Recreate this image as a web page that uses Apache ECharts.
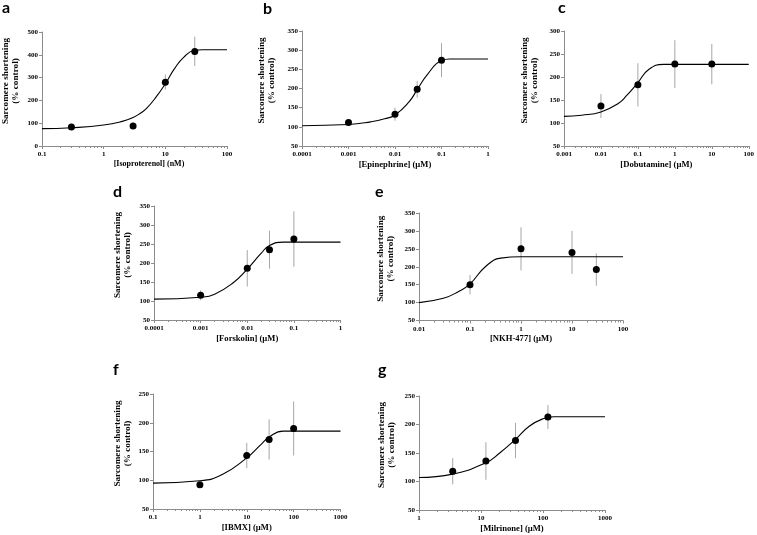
<!DOCTYPE html>
<html>
<head>
<meta charset="utf-8">
<script src="https://cdn.jsdelivr.net/npm/echarts@6/dist/echarts.min.js"></script>
<style>
html,body{margin:0;padding:0;background:#fff;}
#chart{width:757px;height:535px;}
</style>
</head>
<body>
<div id="chart"></div>
<script>
// ---- Data ----
// panel a: Isoproterenol (nM)
const aX = [0.3, 3, 10, 30];
const aY = [83, 88, 280, 415];
const aErr = [0, 0, 33, 64];
const aCurve = [[0.1,76],[0.3,80],[1,92],[2,108],[3,125],[4,145],[5,166],[7,213],[10,273],[14,338],[20,390],[30,420],[40,422],[100,422]];
// panel b: Epinephrine (µM)
const bX = [0.001, 0.01, 0.03, 0.1];
const bY = [111, 133, 198, 274];
const bErr = [3, 17, 22, 44];
const bCurve = [[0.0001,103],[0.001,106],[0.003,113],[0.006,121],[0.01,131],[0.02,165],[0.03,197],[0.05,237],[0.1,273],[0.15,277],[1,277]];
// panel c: Dobutamine (µM)
const cX = [0.01, 0.1, 1, 10];
const cY = [137, 183, 228, 228];
const cErr = [26, 47, 52, 44];
const cCurve = [[0.001,114.5],[0.003,117],[0.01,124],[0.03,143],[0.05,160],[0.1,188],[0.2,217],[0.5,227.5],[100,227.5]];
// panel d: Forskolin (µM)
const dX = [0.001, 0.01, 0.03, 0.1];
const dY = [115, 186, 235, 263];
const dErr = [13, 48, 50, 73];
const dCurve = [[0.0001,105],[0.001,110],[0.002,118],[0.005,148],[0.01,184],[0.02,226],[0.03,246],[0.06,255],[1,255]];
// panel e: NKH-477 (µM)
const eX = [0.1, 1, 10, 30];
const eY = [150, 250, 240, 192];
const eErr = [27, 60, 60, 45];
const eCurve = [[0.01,100],[0.03,112],[0.06,131],[0.1,152],[0.2,200],[0.4,224],[1,228],[100,228]];
// panel f: IBMX (µM)
const fX = [1, 10, 30, 100];
const fY = [92, 143, 171, 190];
const fErr = [0, 22, 35, 47];
const fCurve = [[0.1,95],[1,99],[3,110],[10,139],[20,162],[30,175],[60,185.5],[1000,185.5]];
// panel g: Milrinone (µM)
const gX = [3.5, 12, 36, 120];
const gY = [118, 136, 172, 213];
const gErr = [23, 33, 31, 21];
const gCurve = [[1,107],[3.5,113],[12,133],[20,150],[36,174],[60,197],[100,210],[150,213.5],[1000,213.5]];

const panelLetters = ['a','b','c','d','e','f','g'];
const xNames = ['[Isoproterenol] (nM)','[Epinephrine] (µM)','[Dobutamine] (µM)','[Forskolin] (µM)','[NKH-477] (µM)','[IBMX] (µM)','[Milrinone] (µM)'];
const yName = 'Sarcomere shortening\n(% control)';
const xRanges = [[0.1,100],[0.0001,1],[0.001,100],[0.0001,1],[0.01,100],[0.1,1000],[1,1000]];
const yRanges = [[0,500,100],[50,350,50],[50,300,50],[50,350,50],[50,350,50],[50,250,50],[50,250,50]];

// ---- Layout ----
const grids = [
  {left:40, top:32, width:187, height:114},
  {left:302, top:31, width:186, height:115},
  {left:564, top:31, width:188, height:115},
  {left:154, top:206, width:186.5, height:114},
  {left:419, top:213, width:204, height:107.5},
  {left:153, top:394, width:187.5, height:115},
  {left:419, top:396, width:186, height:114}
];
const yNameGaps = [21, 25, 24, 21, 23, 20.5, 22];
const xNameShift = [29, 0, 0, 0, 0, 0, 0];
const xNameSize = [8, 8.6, 8.6, 8.6, 8.6, 8.6, 8.6];
const letterPos = [[2,9],[263,9.5],[558,9],[113,192.5],[375,192.5],[113,370.5],[378,370.5]];

const panels = [
  [aX,aY,aErr,aCurve],[bX,bY,bErr,bCurve],[cX,cY,cErr,cCurve],[dX,dY,dErr,dCurve],
  [eX,eY,eErr,eCurve],[fX,fY,fErr,fCurve],[gX,gY,gErr,gCurve]
];

const serif = 'Liberation Serif';
const axisColor = '#8c8c8c';

const xAxes = [], yAxes = [], series = [], graphics = [];
panels.forEach((p, i) => {
  xAxes.push({
    type:'log', logBase:10, gridIndex:i, min:xRanges[i][0], max:xRanges[i][1],
    name:xNames[i], nameLocation:'middle', nameGap:14,
    nameTextStyle:{fontFamily:serif, fontWeight:'bold', fontSize:xNameSize[i], color:'#000', padding:[0,0,0,xNameShift[i]]},
    axisLine:{show:true, onZero:false, lineStyle:{color:axisColor, width:1}},
    axisTick:{show:true, length:3, lineStyle:{color:axisColor}},
    minorTick:{show:true, splitNumber:9, length:2, lineStyle:{color:axisColor}},
    axisLabel:{fontFamily:serif, fontWeight:'bold', fontSize:7, color:'#000', margin:5,
      formatter:v => String(parseFloat(Number(v).toPrecision(6)))},
    splitLine:{show:false}
  });
  yAxes.push({
    type:'value', gridIndex:i, min:yRanges[i][0], max:yRanges[i][1], interval:yRanges[i][2],
    name:yName, nameLocation:'middle', nameGap:yNameGaps[i], nameRotate:90,
    nameTextStyle:{fontFamily:serif, fontWeight:'bold', fontSize:9.2, lineHeight:10, color:'#000', padding:[0,0,0,16]},
    axisLine:{show:true, lineStyle:{color:axisColor, width:1}},
    axisTick:{show:true, length:3, lineStyle:{color:axisColor}},
    axisLabel:{fontFamily:serif, fontWeight:'bold', fontSize:7, color:'#000', margin:4},
    splitLine:{show:false}
  });
  const [xs, ys, es, curve] = p;
  series.push({
    type:'custom', xAxisIndex:i, yAxisIndex:i, z:1, silent:true,
    data: xs.map((x,k) => [x, ys[k]-es[k], ys[k]+es[k]]),
    encode:{x:0, y:[1,2]},
    renderItem:(params, api) => {
      const p1 = api.coord([api.value(0), api.value(1)]);
      const p2 = api.coord([api.value(0), api.value(2)]);
      return {type:'line', shape:{x1:p1[0], y1:p1[1], x2:p2[0], y2:p2[1]}, style:{stroke:'#a6a6a6', lineWidth:1}};
    }
  });
  series.push({
    type:'line', xAxisIndex:i, yAxisIndex:i, z:2, data:curve, smooth:0.5,
    showSymbol:false, lineStyle:{color:'#000', width:1.1}, silent:true
  });
  series.push({
    type:'scatter', xAxisIndex:i, yAxisIndex:i, z:3, data:xs.map((x,k)=>[x, ys[k]]),
    symbol:'circle', symbolSize:7, itemStyle:{color:'#000', opacity:1}, silent:true
  });
  graphics.push({
    type:'text', left:letterPos[i][0], top:letterPos[i][1]-9,
    style:{text:panelLetters[i], font:'bold 16px Lato', fill:'#000'}
  });
});

const chart = echarts.init(document.getElementById('chart'), null, {renderer:'canvas'});
chart.setOption({
  animation:false,
  backgroundColor:'#fff',
  grid:grids.map(g => Object.assign({containLabel:false}, g)),
  xAxis:xAxes,
  yAxis:yAxes,
  series:series,
  graphic:graphics
});
</script>
</body>
</html>
